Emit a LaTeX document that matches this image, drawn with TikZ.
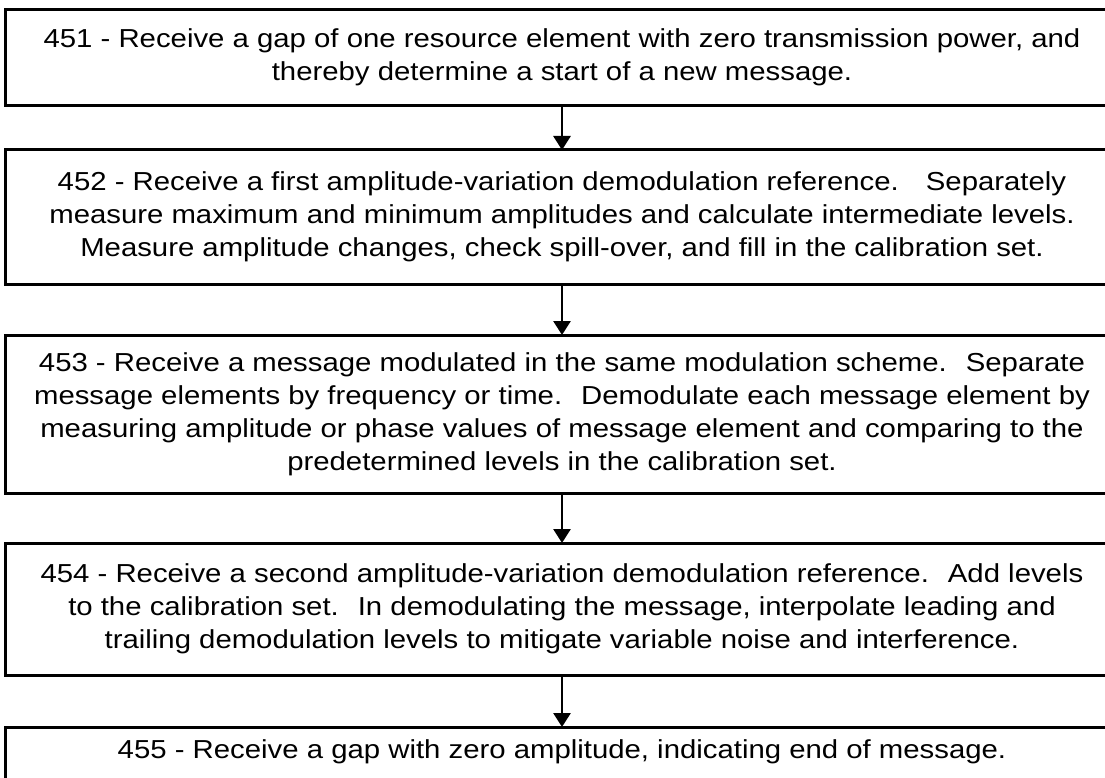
\documentclass[tikz,border=0pt]{standalone}
\usepackage{fontspec}
\setmainfont{Liberation Sans}[FakeStretch=1.128]
\usetikzlibrary{arrows.meta}
\begin{document}
\begin{tikzpicture}[x=1bp,y=-1bp,
  stepbox/.style={draw=black,line width=3bp,fill=white,outer sep=0pt,
    minimum width=1112bp,align=center,inner xsep=0pt,
    font=\fontsize{26bp}{33bp}\selectfont},
  flowarrow/.style={line width=2.8bp,-{Triangle[length=14bp,width=17bp]}}]
\useasboundingbox (0,0) rectangle (1105,778);
\node[stepbox,minimum height=95bp] (b1) at (562,57.5)
 {451 - Receive a gap of one resource element with zero transmission power, and\\
  thereby determine a start of a new message.};
\node[stepbox,minimum height=134bp] (b2) at (562,217)
 {452 - Receive a first amplitude-variation demodulation reference.~~ Separately\\
  measure maximum and minimum amplitudes and calculate intermediate levels.\\
  Measure amplitude changes, check spill-over, and fill in the calibration set.};
\node[stepbox,minimum height=158bp] (b3) at (562,414)
 {453 - Receive a message modulated in the same modulation scheme.~ Separate\\
  message elements by frequency or time.~ Demodulate each message element by\\
  measuring amplitude or phase values of message element and comparing to the\\
  predetermined levels in the calibration set.};
\node[stepbox,minimum height=132bp] (b4) at (562,609)
 {454 - Receive a second amplitude-variation demodulation reference.~ Add levels\\
  to the calibration set.~ In demodulating the message, interpolate leading and\\
  trailing demodulation levels to mitigate variable noise and interference.};
\node[stepbox,anchor=north,inner ysep=13bp,text depth=60bp] (b5) at (562,727)
 {455 - Receive a gap with zero amplitude, indicating end of message.};
\draw[flowarrow] (b1.south) -- (b2.north);
\draw[flowarrow] (b2.south) -- (b3.north);
\draw[flowarrow] (b3.south) -- (b4.north);
\draw[flowarrow] (b4.south) -- (b5.north);
\end{tikzpicture}
\end{document}
